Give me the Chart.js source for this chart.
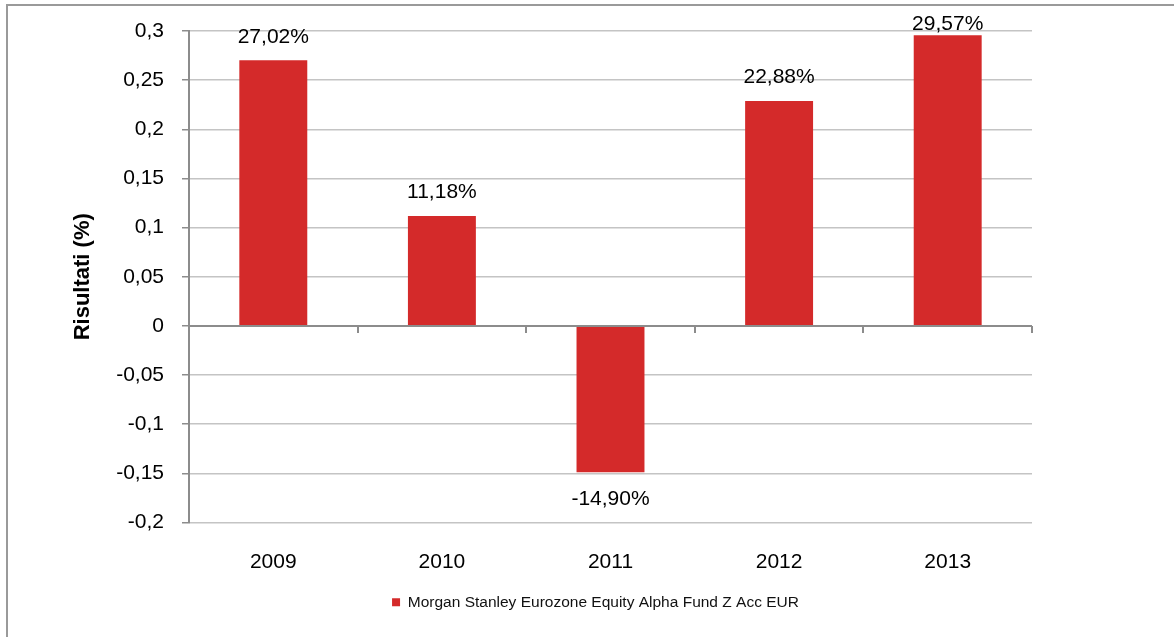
<!DOCTYPE html>
<html>
<head>
<meta charset="utf-8">
<script src="https://cdn.jsdelivr.net/npm/chart.js@4"></script>
<style>
  html, body { margin: 0; padding: 0; background: #fff; }
</style>
</head>
<body>
<canvas id="risultati" width="1174" height="637"></canvas>
<script>
// dati
const anni = ['2009', '2010', '2011', '2012', '2013'];
const risultati = [0.2702, 0.1118, -0.1490, 0.2288, 0.2957];
const nomeSerie = 'Morgan Stanley Eurozone Equity Alpha Fund Z Acc EUR';
const yMin = -0.2;
const yMax = 0.3;
const yPasso = 0.05;

const font = '"Liberation Sans", Arial, sans-serif';
const rosso = '#d42a2a';
const grigio = '#8c8c8c';

// cornice grigia attorno al grafico
const cornice = {
  id: 'cornice',
  beforeDraw(chart) {
    const ctx = chart.ctx;
    ctx.save();
    ctx.fillStyle = '#fff';
    ctx.fillRect(0, 0, chart.width, chart.height);
    ctx.strokeStyle = '#9a9a9a';
    ctx.lineWidth = 2;
    ctx.strokeRect(7, 5, chart.width + 20, chart.height + 20);
    ctx.restore();
  }
};

// asse dello zero con le tacche fra le categorie
const asseZero = {
  id: 'asseZero',
  afterDatasetsDraw(chart) {
    const {ctx, chartArea, scales} = chart;
    const y0 = Math.round(scales.y.getPixelForValue(0));
    ctx.save();
    ctx.strokeStyle = grigio;
    ctx.lineWidth = 2;
    ctx.beginPath();
    ctx.moveTo(chartArea.left, y0);
    ctx.lineTo(chartArea.right, y0);
    const n = anni.length;
    for (let i = 0; i <= n; i++) {
      let x;
      if (i === 0) x = chartArea.left;
      else if (i === n) x = chartArea.right;
      else x = (scales.x.getPixelForValue(i - 1) + scales.x.getPixelForValue(i)) / 2;
      x = Math.round(x);
      ctx.moveTo(x, y0);
      ctx.lineTo(x, y0 + 7);
    }
    ctx.stroke();
    ctx.restore();
  }
};

// etichette dei valori sopra / sotto le barre
const etichette = {
  id: 'etichette',
  afterDatasetsDraw(chart) {
    const ctx = chart.ctx;
    const meta = chart.getDatasetMeta(0);
    ctx.save();
    ctx.font = '21px ' + font;
    ctx.fillStyle = '#000';
    ctx.textAlign = 'center';
    ctx.textBaseline = 'middle';
    meta.data.forEach((bar, i) => {
      const v = risultati[i];
      const testo = (v * 100).toFixed(2).replace('.', ',') + '%';
      const y = v >= 0 ? Math.max(bar.y - 23.5, chart.chartArea.top - 7) : bar.y + 27;
      ctx.fillText(testo, bar.x, y);
    });
    ctx.restore();
  }
};

new Chart(document.getElementById('risultati'), {
  type: 'bar',
  data: {
    labels: anni,
    datasets: [{
      label: nomeSerie,
      data: risultati,
      backgroundColor: rosso,
      borderWidth: 0,
      categoryPercentage: 1,
      barPercentage: 0.403
    }]
  },
  options: {
    responsive: false,
    animation: false,
    layout: { padding: { left: 17, right: 0, top: 31, bottom: 17 } },
    plugins: {
      tooltip: { enabled: false },
      legend: {
        position: 'bottom',
        labels: {
          boxWidth: 8,
          boxHeight: 8,
          padding: 10,
          color: '#111',
          font: { family: font, size: 15.5 }
        }
      }
    },
    scales: {
      x: {
        grid: { display: false, drawTicks: false },
        border: { display: false },
        ticks: { color: '#000', padding: 27, font: { family: font, size: 21 } },
        afterFit: (s) => { s.height = 62; }
      },
      y: {
        min: yMin,
        max: yMax,
        border: { color: grigio, width: 2 },
        grid: { color: '#c4c4c4', lineWidth: 1.5, tickLength: 7, tickColor: grigio },
        ticks: {
          stepSize: yPasso,
          color: '#000',
          padding: 18,
          font: { family: font, size: 21 },
          callback: (v) => String(Math.round(v * 100) / 100).replace('.', ',')
        },
        title: {
          display: true,
          text: 'Risultati (%)',
          color: '#000',
          font: { family: font, size: 22, weight: 'bold' },
          padding: { top: 53, bottom: 0 }
        },
        afterFit: (s) => { s.width = 172; }
      },
      destra: {
        position: 'right',
        display: true,
        grid: { display: false, drawTicks: false },
        border: { display: false },
        ticks: { display: false },
        afterFit: (s) => { s.width = 142; }
      }
    }
  },
  plugins: [cornice, asseZero, etichette]
});
</script>
</body>
</html>
